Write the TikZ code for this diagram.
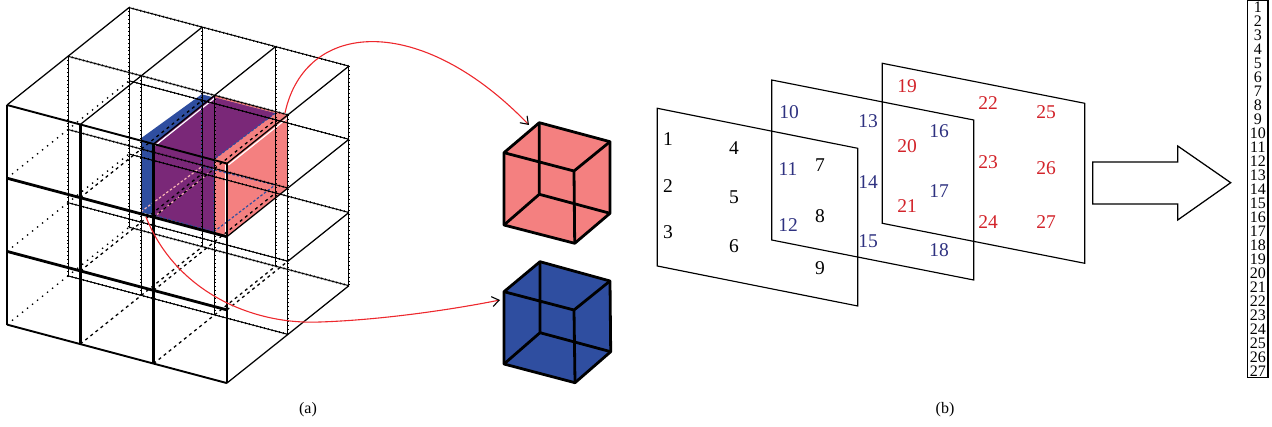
\documentclass[tikz,border=0pt]{standalone}
\usepackage{fontspec}
\setmainfont{Liberation Serif}
\usetikzlibrary{arrows.meta}
\definecolor{cubeblue}{RGB}{47,78,160}
\definecolor{cubepink}{RGB}{244,128,128}
\definecolor{cubepurple}{RGB}{122,40,120}
\definecolor{numblue}{RGB}{46,49,128}
\definecolor{numred}{RGB}{210,35,42}
\definecolor{curvered}{RGB}{237,40,45}
\tikzset{
  ticked/.style={line width=1pt,postaction={draw,dash pattern=on 0.9pt off 3pt,line width=1.9pt}},
  plainedge/.style={line width=1.25pt},
  frontedge/.style={line width=1.9pt},
  thickedge/.style={line width=2.8pt},
  dotdepth/.style={line width=1.3pt,dash pattern=on 1.4pt off 5pt},
  dashdepth/.style={line width=1.3pt,dash pattern=on 3pt off 3.5pt},
  wireblue/.style={cubeblue,line width=1.2pt,dash pattern=on 2.5pt off 2pt},
  wirepink/.style={cubepink!60!white,line width=1.2pt,dash pattern=on 2.5pt off 2pt},
  cubeedge/.style={line width=2.8pt,line join=round},
  curvearrow/.style={curvered,line width=1.1pt,-{Straight Barb[black,length=7pt,width=10pt]}},
  planeedge/.style={line width=1.15pt},
  planenum/.style={font=\fontsize{19.5}{19.5}\selectfont,inner sep=0pt},
  listnum/.style={font=\fontsize{16}{16}\selectfont,inner sep=0pt},
  caption/.style={font=\fontsize{16}{16}\selectfont,inner sep=0pt},
}
\begin{document}
\begin{tikzpicture}[x=1pt,y=-1pt]
\useasboundingbox (0,0) rectangle (1272,427);
% grid points: column, row, layer
\foreach \i in {0,1,2,3}
  \foreach \j in {0,1,2,3}
    \foreach \k in {0,1,2}
      \coordinate (g\i\j\k) at ({7+73.3*\i+61*\k},{105+19.5*\i+73.2*\j-48.7*\k});
% blue cube corners
\coordinate (b1) at (141,138.3);
\coordinate (b2) at (201.7,94.3);
\coordinate (b3) at (275,113.3);
\coordinate (b4) at (214,159.3);
\coordinate (b5) at (214,231.7);
\coordinate (b6) at (141,211.7);
\coordinate (b7) at (201.7,166.7);
\coordinate (b8) at (275,185);
% coloured cubes in the grid
\fill[cubepink] (g200) -- (g201) -- (g301) -- (g311) -- (g310) -- (g210) -- cycle;
\fill[cubeblue] (b1) -- (b2) -- (b3) -- (b4) -- (b5) -- (b6) -- cycle;
\begin{scope}
\clip (b1) -- (b2) -- (b3) -- (b4) -- (b5) -- (b6) -- cycle;
\fill[cubepurple] (g200) -- (g201) -- (g301) -- (g311) -- (g310) -- (g210) -- cycle;
\end{scope}
\draw[white,line width=1.2pt] (g310) ++(-1.5,0) -- ++(0,-72);
\draw[white,line width=1.2pt] (g200) ++(1.5,1.5) -- ++(59,-47);
\draw[white,line width=1.2pt] (g300) ++(1.5,1.5) -- ++(59,-47);
\draw[wireblue] (b3) -- (b4) (b5) -- (b8) (b7) -- (b8) (b2) -- (b7) (b5) -- (b6) (b4) -- (b5);
\draw[wirepink] (g201) -- (g211) (g210) -- (g211) (b6) -- (b7);
% back layers
\foreach \k in {1,2} {
  \foreach \j in {0,1,2,3}
    \draw[ticked] (g0\j\k) -- (g3\j\k);
  \foreach \i in {0,1,2,3}
    \draw[ticked] (g\i0\k) -- (g\i3\k);
}
% depth lines
\foreach \j in {1,2,3}
  \draw[dotdepth] (g0\j0) -- (g0\j2);
\foreach \i in {1,2}
  \foreach \j in {1,2,3}
    \draw[dashdepth] (g\i\j0) -- (g\i\j2);
\draw[dashdepth] (g320) -- (g321);
\draw[plainedge] (g321) -- (g322);
\foreach \i in {0,1,2,3}
  \draw[plainedge] (g\i00) -- (g\i02);
\draw[plainedge] (g310) -- (g312);
\draw[plainedge] (g330) -- (g332);
% front layer
\draw[frontedge] (g000) -- (g300);
\draw[thickedge] (g010) -- (g310);
\draw[thickedge] (g020) -- (g320);
\draw[frontedge] (g030) -- (g330);
\draw[frontedge] (g000) -- (g030);
\draw[thickedge] (g100) -- (g130);
\draw[thickedge] (g200) -- (g230);
\draw[frontedge] (g300) -- (g330);
% small pink cube
\coordinate (pa) at (504,152.7);
\coordinate (pb) at (539.3,122.7);
\coordinate (pc) at (610,141.7);
\coordinate (pd) at (574,171);
\coordinate (pe) at (504,225);
\coordinate (pf) at (539.3,194.3);
\coordinate (pg) at (610,213.3);
\coordinate (ph) at (574.7,243.3);
\fill[cubepink] (pa) -- (pb) -- (pc) -- (pg) -- (ph) -- (pe) -- cycle;
\draw[cubeedge] (pa) -- (pb) -- (pc) -- (pg) -- (ph) -- (pe) -- cycle;
\draw[cubeedge] (pa) -- (pd) -- (pc) (pd) -- (ph) (pb) -- (pf) -- (pe) (pf) -- (pg);
% small blue cube
\coordinate (qa) at (504,291.7);
\coordinate (qb) at (540,261.7);
\coordinate (qc) at (610,281);
\coordinate (qd) at (574,310);
\coordinate (qe) at (504,364);
\coordinate (qf) at (540,332.7);
\coordinate (qg) at (610.7,351.7);
\coordinate (qh) at (575,382.7);
\fill[cubeblue] (qa) -- (qb) -- (qc) -- (qg) -- (qh) -- (qe) -- cycle;
\draw[cubeedge] (qa) -- (qb) -- (qc) -- (qg) -- (qh) -- (qe) -- cycle;
\draw[cubeedge] (qa) -- (qd) -- (qc) (qd) -- (qh) (qb) -- (qf) -- (qe) (qf) -- (qg);
% red curves
\coordinate (pinkstart) at (285,113);
\coordinate (pinkend) at (529,125);
\coordinate (bluestart) at (146,217);
\coordinate (bluemid) at (320,322);
\coordinate (blueend) at (500,300);
\draw[curvearrow] (pinkstart) .. controls (305,20) and (420,12) .. (pinkend);
\draw[curvearrow] (bluestart) .. controls (175,290) and (250,325) .. (bluemid) .. controls (380,320) and (450,310) .. (blueend);
\node[caption] (capa) at (308,410) {(a)};
% three planes
\draw[planeedge] (882.3,63.3) -- (1084.7,103.3) -- (1084.7,263.3) -- (882.3,223.3) -- cycle;
\draw[planeedge] (771.7,80) -- (973.7,120) -- (973.7,280) -- (771.7,240) -- cycle;
\draw[planeedge] (657.3,108.3) -- (857.7,148.3) -- (857.7,306) -- (657.3,266) -- cycle;
\foreach \n/\xx/\yy in {1/668/139,2/668/186,3/668/232,4/734/148,5/734/197,6/734/246,7/820/165,8/820/216,9/820/268}
  \node[planenum] (n\n) at (\xx,\yy) {\n};
\foreach \n/\xx/\yy in {10/789/112,11/788/169,12/788/225,13/868/121,14/868/182,15/868/241,16/939/131,17/939/191,18/939/250}
  \node[planenum,numblue] (n\n) at (\xx,\yy) {\n};
\foreach \n/\xx/\yy in {19/907/86,20/907/146,21/907/206,22/988/103,23/988/162,24/988/222,25/1046/112,26/1046/168,27/1046/222}
  \node[planenum,numred] (n\n) at (\xx,\yy) {\n};
% big arrow
\draw[line width=1.25pt,line join=miter] (1092.7,162) -- (1177.7,162) -- (1177.7,146) -- (1230.7,182.7) -- (1177.7,220) -- (1177.7,204) -- (1092.7,204) -- cycle;
% number column
\draw[line width=1.25pt] (1247.7,0.5) rectangle (1268,377.5);
\foreach \n in {1,...,27}
  \node[listnum] (c\n) at (1257.8,{7+14*(\n-1)}) {\n};
\node[caption] (capb) at (945,410) {(b)};
\end{tikzpicture}
\end{document}
